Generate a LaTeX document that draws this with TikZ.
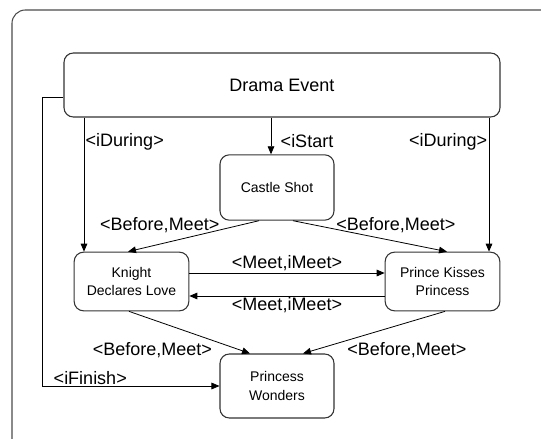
\documentclass[tikz,border=0pt]{standalone}
\usepackage{fontspec}
\setmainfont{Liberation Sans}
\usetikzlibrary{calc}
\usetikzlibrary{arrows.meta}

\tikzset{
 event/.style={draw=black!80, line width=.8pt, rounded corners=7pt, align=center,
   font=\fontsize{10.5}{13.7}\selectfont, inner sep=2pt},
 rel/.style={black, line width=.6pt, ->, >={Triangle[length=6pt, width=5pt]}},
 lbl/.style={font=\fontsize{13.5}{16}\selectfont, inner sep=1pt}
}

\begin{document}
\begin{tikzpicture} [x=.75pt, y=-.75pt]
\useasboundingbox (0,0) rectangle (541,438);
\draw[black!70, line width=.8pt, rounded corners=10pt] (12,10) rectangle (600,500);

% events
\node[event, minimum width=327pt, minimum height=48pt, font=\fontsize{13.5}{16}\selectfont] (drama) at (282,85) {Drama Event};
\node[event, minimum width=85.5pt, minimum height=49pt] (castle) at (277,187.5) {Castle Shot};
\node[event, minimum width=86pt, minimum height=44pt] (knight) at (131.5,281.5) {Knight\\Declares Love};
\node[event, minimum width=86pt, minimum height=44pt] (prince) at (442.5,281.5) {Prince Kisses\\Princess};
\node[event, minimum width=85.5pt, minimum height=48pt] (wonders) at (277,386) {Princess\\Wonders};

% relations from the drama event
\coordinate (kIn) at ($(knight.north)+(-47.5,0)$);
\coordinate (pIn) at ($(prince.north)+(46.5,0)$);
\coordinate (cIn) at ($(castle.north)+(-6,0)$);
\coordinate (fin) at ($(drama.west)+(-21,12)$);
\draw[rel] (drama.south -| kIn) -- node[lbl, pos=.18, anchor=west] {<iDuring>} (kIn);
\draw[rel] (drama.south -| cIn) -- node[lbl, pos=.63, right=6pt] {<iStart} (cIn);
\draw[rel] (drama.south -| pIn) -- node[lbl, pos=.18, anchor=east] {<iDuring>} (pIn);
\draw[rel] ($(drama.west)+(0,12)$) -- (fin) -- (fin |- wonders.west) -- node[lbl, pos=.27, above] {<iFinish>} (wonders.west);

% castle shot to the middle row
\draw[rel] ($(castle.south)+(-18,0)$) -- node[lbl, pos=.29, anchor=south east, yshift=-4pt] {<Before,Meet>} ($(knight.north)+(-3.5,0)$);
\draw[rel] ($(castle.south)+(16,0)$) -- node[lbl, pos=.27, anchor=south west, yshift=-4pt] {<Before,Meet>} ($(prince.north)+(4.5,0)$);

% knight <-> prince
\coordinate (kpTop) at ($(knight.east)+(0,-8.5)$);
\coordinate (kpBot) at ($(knight.east)+(0,14.5)$);
\draw[rel] (kpTop) -- node[lbl, above] {<Meet,iMeet>} (kpTop -| prince.west);
\draw[rel] (kpBot -| prince.west) -- node[lbl, below] {<Meet,iMeet>} (kpBot);

% middle row to princess wonders
\draw[rel] ($(knight.south)+(-2.5,0)$) -- node[lbl, pos=.7, anchor=north east] {<Before,Meet>} ($(wonders.north)+(-27,0)$);
\draw[rel] ($(prince.south)+(2.5,0)$) -- node[lbl, pos=.7, anchor=north west] {<Before,Meet>} ($(wonders.north)+(26,0)$);
\end{tikzpicture}
\end{document}
